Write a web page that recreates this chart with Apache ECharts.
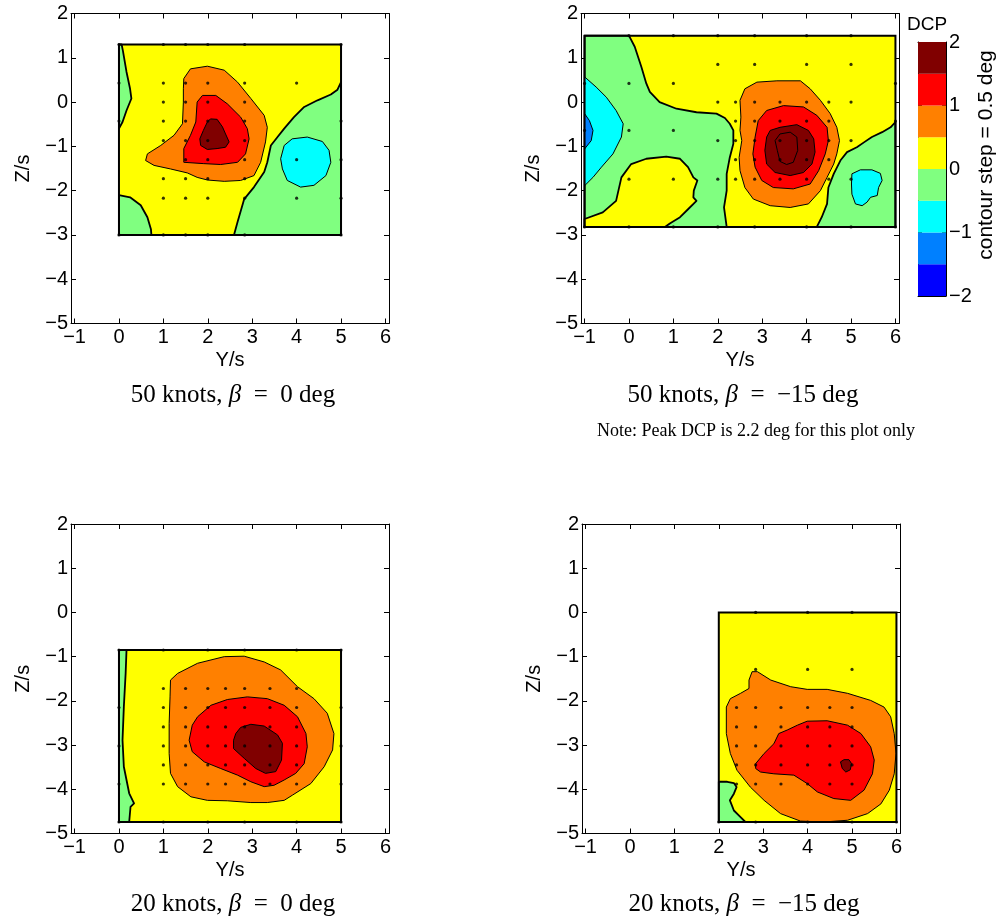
<!DOCTYPE html>
<html><head><meta charset="utf-8">
<script src="https://cdn.jsdelivr.net/npm/echarts@6/dist/echarts.min.js"></script>
<style>html,body{margin:0;padding:0;background:#fff}#c{width:1005px;height:921px}</style>
</head><body><div id="c"></div>
<script>
// ---------------- DATA ----------------
const levelEdges = [-2, -1.5, -1, -0.5, 0, 0.5, 1, 1.5, 2];
const levelColors = ['#0000ff', '#0080ff', '#00ffff', '#80ff80', '#ffff00', '#ff8000', '#ff0000', '#800000'];
const xTicks = [-1, 0, 1, 2, 3, 4, 5, 6];
const cbTicks = [-2, -1, 0, 1, 2];
const titles = ['50 knots, |β|\u2002=\u20020 deg', '50 knots, |β|\u2002=\u2002\u221215 deg', '20 knots, |β|\u2002=\u20020 deg', '20 knots, |β|\u2002=\u2002\u221215 deg'];
const noteText = 'Note: Peak DCP is 2.2 deg for this plot only';

// --- 50 knots, beta = 0 (top left) ---
const tlRegion = [[0,1.3],[5,1.3],[5,-3],[0,-3]];
const tlGreenLeft = [[0,1.3],[0.06,1.3],[0.09,1.15],[0.17,0.68],[0.25,0.3],[0.28,0.08],[0.17,-0.19],[0.08,-0.45],[0,-0.6]];
const tlGreenBottom = [[0,-2.1],[0.25,-2.15],[0.49,-2.33],[0.64,-2.6],[0.72,-2.87],[0.73,-3],[0,-3]];
const tlGreenRight = [[2.59,-3],[2.67,-2.71],[2.82,-2.19],[3.04,-1.92],[3.27,-1.58],[3.34,-1.36],[3.42,-0.98],[3.57,-0.79],[3.72,-0.6],[3.94,-0.34],[4.17,-0.11],[4.47,0.04],[4.77,0.17],[4.92,0.28],[5,0.45],[5,-3]];
const tlCyan = [[3.64,-1.28],[3.72,-0.98],[3.9,-0.83],[4.24,-0.79],[4.58,-0.89],[4.73,-1.09],[4.77,-1.36],[4.66,-1.66],[4.39,-1.88],[4.09,-1.92],[3.79,-1.77],[3.68,-1.51]];
const tlOrange = [[1.46,0.53],[1.61,0.75],[1.99,0.81],[2.37,0.72],[2.67,0.45],[2.97,0.08],[3.27,-0.3],[3.34,-0.57],[3.3,-0.9],[3.19,-1.36],[3.04,-1.66],[2.74,-1.77],[2.37,-1.79],[1.99,-1.76],[1.76,-1.7],[1.54,-1.6],[1.16,-1.51],[0.79,-1.43],[0.6,-1.32],[0.64,-1.17],[0.94,-0.98],[1.24,-0.75],[1.43,-0.49],[1.45,0],[1.45,0.3]];
const tlRed = [[1.76,0],[1.88,0.15],[2.18,0.15],[2.44,-0.04],[2.74,-0.34],[2.89,-0.6],[2.93,-0.83],[2.85,-1.17],[2.67,-1.36],[2.29,-1.41],[1.91,-1.39],[1.46,-1.36],[1.46,-1.05],[1.61,-0.75],[1.73,-0.45]];
const tlDark = [[1.99,-0.45],[2.06,-0.38],[2.21,-0.39],[2.33,-0.56],[2.4,-0.72],[2.48,-0.9],[2.4,-1.02],[2.21,-1.05],[1.99,-1.07],[1.84,-0.98],[1.82,-0.83],[1.9,-0.64]];
const tlDots = [[0,1.3],[1,1.3],[1.5,1.3],[2,1.3],[2.83,1.3],[5,1.3],
  [0,0.43],[1,0.43],[1.5,0.43],[2,0.43],[2.83,0.43],[4,0.43],
  [1,0],[1.5,0],[2,0],[2.83,0],
  [0,-0.43],[1,-0.43],[1.5,-0.43],[2,-0.43],[2.83,-0.43],[5,-0.43],
  [1,-0.87],[1.5,-0.87],[2,-0.87],[2.83,-0.87],
  [1.5,-1.3],[2,-1.3],[2.83,-1.3],[4,-1.3],[5,-1.3],
  [1,-1.73],[1.5,-1.73],[2,-1.73],[2.83,-1.73],
  [1,-2.17],[1.5,-2.17],[2,-2.17],[2.83,-2.17],[4,-2.17],[5,-2.17],
  [0,-3],[1,-3],[1.5,-3],[2,-3],[2.83,-3],[5,-3]];

// --- 50 knots, beta = -15 (top right) ---
const trRegion = [[-1,1.5],[6,1.5],[6,-2.82],[-1,-2.82]];
const trGreen = [[-1,1.5],[0,1.5],[0.13,1.25],[0.28,0.79],[0.39,0.42],[0.47,0.23],[0.69,0],[1.07,-0.15],[1.52,-0.23],[1.97,-0.26],[2.16,-0.36],[2.27,-0.49],[2.35,-0.64],[2.35,-0.94],[2.27,-1.25],[2.2,-1.62],[2.2,-2.0],[2.14,-2.38],[2.2,-2.82],[-1,-2.82]];
const trYellowBlob = [[-1,-2.64],[-0.59,-2.49],[-0.29,-2.23],[-0.17,-1.7],[0.05,-1.4],[0.39,-1.28],[0.84,-1.23],[1.15,-1.28],[1.33,-1.47],[1.45,-1.7],[1.54,-1.77],[1.46,-2.0],[1.45,-2.15],[1.52,-2.23],[1.33,-2.42],[1.15,-2.6],[0.92,-2.74],[0.81,-2.82],[-1,-2.82]];
const trGreenRight = [[4.23,-2.82],[4.34,-2.6],[4.46,-2.3],[4.49,-1.93],[4.61,-1.62],[4.76,-1.32],[4.91,-1.13],[5.13,-1.02],[5.29,-0.91],[5.47,-0.79],[5.7,-0.68],[5.89,-0.57],[6,-0.45],[6,-2.82]];
const trCyanLeft = [[-1,0.57],[-0.74,0.34],[-0.51,0.11],[-0.29,-0.19],[-0.13,-0.49],[-0.17,-0.79],[-0.36,-1.17],[-0.62,-1.47],[-0.81,-1.7],[-1,-1.89]];
const trBlueLeft = [[-1,-0.26],[-0.89,-0.42],[-0.81,-0.64],[-0.85,-0.87],[-1,-1.06]];
const trCyanRight = [[5.02,-1.62],[5.21,-1.53],[5.47,-1.53],[5.66,-1.61],[5.7,-1.77],[5.62,-1.93],[5.59,-2.11],[5.44,-2.15],[5.36,-2.26],[5.25,-2.34],[5.1,-2.3],[5.02,-2.08],[5.01,-1.85]];
const trOrange = [[2.5,0.04],[2.61,0.3],[2.88,0.45],[3.33,0.48],[3.86,0.48],[4.08,0.3],[4.31,0.04],[4.53,-0.26],[4.68,-0.57],[4.74,-0.87],[4.68,-1.17],[4.61,-1.4],[4.46,-1.7],[4.31,-2.0],[4.04,-2.3],[3.63,-2.38],[3.18,-2.34],[2.8,-2.19],[2.61,-1.93],[2.5,-1.55],[2.48,-1.25],[2.54,-0.87],[2.5,-0.64],[2.52,-0.34]];
const trRed = [[2.91,-0.42],[3.1,-0.19],[3.48,-0.08],[3.93,-0.11],[4.23,-0.3],[4.46,-0.57],[4.49,-0.87],[4.42,-1.17],[4.27,-1.55],[4.08,-1.85],[3.7,-1.96],[3.25,-1.93],[2.99,-1.77],[2.84,-1.47],[2.79,-1.17],[2.84,-0.79]];
const trDark = [[3.1,-0.79],[3.18,-0.64],[3.4,-0.57],[3.78,-0.51],[4.04,-0.64],[4.16,-0.83],[4.19,-1.13],[4.12,-1.4],[3.93,-1.59],[3.63,-1.66],[3.29,-1.59],[3.1,-1.4],[3.06,-1.09]];
const trPeak = [[3.29,-0.87],[3.4,-0.72],[3.63,-0.68],[3.78,-0.79],[3.8,-1.09],[3.7,-1.36],[3.55,-1.41],[3.4,-1.34],[3.34,-1.09]];
const trDots = [[0,1.5],[1,1.5],[2,1.5],[2.83,1.5],[4,1.5],[5,1.5],
  [2,0.85],[2.83,0.85],[4,0.85],[5,0.85],
  [-1,0.42],[0,0.42],[1,0.42],[6,0.42],
  [2,0],[2.4,0],[2.83,0],[3.4,0],[4,0],[4.5,0],[5,0],
  [2.4,-0.43],[2.83,-0.43],[3.4,-0.43],[4,-0.43],[4.5,-0.43],[6,-0.43],
  [-1,-0.64],[0,-0.64],[1,-0.64],
  [2,-0.87],[2.4,-0.87],[2.83,-0.87],[3.4,-0.87],[4,-0.87],[4.5,-0.87],[5,-0.87],
  [2.4,-1.3],[2.83,-1.3],[3.4,-1.3],[4,-1.3],[4.5,-1.3],
  [0,-1.74],[1,-1.74],[2,-1.74],[2.4,-1.74],[2.83,-1.74],[3.4,-1.74],[4,-1.74],[4.5,-1.74],[5,-1.74],
  [-1,-2.82],[0,-2.82],[1,-2.82],[2,-2.82],[2.83,-2.82],[4,-2.82],[5,-2.82],[6,-2.82]];

// --- 20 knots, beta = 0 (bottom left) ---
const blRegion = [[0,-0.85],[5,-0.85],[5,-4.74],[0,-4.74]];
const blGreen = [[0,-0.85],[0.17,-0.85],[0.15,-1.38],[0.11,-2.13],[0.08,-2.89],[0.11,-3.49],[0.23,-4.09],[0.34,-4.32],[0.26,-4.4],[0.23,-4.74],[0,-4.74]];
const blOrange = [[1.16,-1.53],[1.32,-1.38],[1.77,-1.15],[2.37,-1.0],[2.82,-0.99],[3.27,-1.12],[3.64,-1.3],[4.02,-1.68],[4.39,-1.95],[4.69,-2.28],[4.84,-2.74],[4.81,-3.11],[4.62,-3.49],[4.32,-3.87],[3.91,-4.13],[3.72,-4.25],[3.34,-4.3],[2.97,-4.3],[2.44,-4.26],[1.99,-4.25],[1.62,-4.17],[1.32,-3.94],[1.16,-3.64],[1.13,-3.19],[1.13,-2.51],[1.15,-1.91]];
const blRed = [[1.77,-2.36],[2.07,-2.1],[2.44,-1.97],[2.89,-1.91],[3.34,-1.95],[3.72,-2.1],[4.02,-2.36],[4.21,-2.74],[4.24,-3.04],[4.17,-3.42],[3.98,-3.64],[3.72,-3.79],[3.49,-3.91],[3.27,-3.94],[2.97,-3.83],[2.67,-3.68],[2.29,-3.53],[1.92,-3.38],[1.65,-3.15],[1.58,-2.89],[1.65,-2.55]];
const blDark = [[2.63,-2.74],[2.74,-2.6],[2.97,-2.53],[3.27,-2.57],[3.57,-2.77],[3.68,-2.96],[3.66,-3.34],[3.53,-3.6],[3.3,-3.64],[3.08,-3.53],[2.82,-3.3],[2.58,-3.08],[2.58,-2.89]];
const blCols = [1, 1.5, 2, 2.4, 2.83, 3.4, 4];
const blRows = [-1.72, -2.15, -2.59, -3.02, -3.45, -3.88];
const blEdgeDots = [[0,-0.85],[1,-0.85],[2,-0.85],[2.83,-0.85],[4,-0.85],[5,-0.85],
  [0,-2.15],[0,-3.02],[0,-3.88],[5,-2.15],[5,-3.02],[5,-3.88],
  [0,-4.74],[1,-4.74],[2,-4.74],[2.83,-4.74],[4,-4.74],[5,-4.74]];

// --- 20 knots, beta = -15 (bottom right) ---
const brRegion = [[2,0],[6,0],[6,-4.74],[2,-4.74]];
const brGreen = [[2,-3.83],[2.19,-3.83],[2.34,-3.86],[2.4,-3.95],[2.34,-4.1],[2.25,-4.25],[2.34,-4.48],[2.49,-4.63],[2.6,-4.74],[2,-4.74]];
const brOrange = [[2.68,-1.53],[2.75,-1.34],[2.87,-1.34],[3.17,-1.53],[3.62,-1.68],[3.99,-1.74],[4.44,-1.74],[4.9,-1.83],[5.42,-1.99],[5.72,-2.14],[5.87,-2.36],[5.95,-2.74],[5.99,-3.19],[5.95,-3.65],[5.84,-4.02],[5.65,-4.33],[5.35,-4.55],[4.9,-4.7],[4.37,-4.74],[3.84,-4.72],[3.39,-4.55],[3.02,-4.25],[2.71,-3.95],[2.41,-3.57],[2.26,-3.19],[2.17,-2.74],[2.17,-2.14],[2.26,-1.95],[2.49,-1.83],[2.68,-1.72]];
const brRed = [[2.83,-3.42],[3.02,-3.19],[3.24,-2.97],[3.35,-2.74],[3.54,-2.66],[3.77,-2.55],[3.99,-2.46],[4.44,-2.45],[4.9,-2.55],[5.2,-2.74],[5.42,-3.04],[5.5,-3.34],[5.46,-3.65],[5.27,-4.02],[4.97,-4.25],[4.59,-4.21],[4.22,-4.06],[3.99,-3.87],[3.69,-3.68],[3.24,-3.65],[2.94,-3.61],[2.83,-3.53]];
const brDark = [[4.74,-3.38],[4.82,-3.33],[4.93,-3.33],[4.99,-3.42],[4.96,-3.56],[4.86,-3.61],[4.78,-3.53]];
const brCols = [2.4, 2.83, 3.4, 4, 4.5, 5];
const brRows = [-2.15, -2.59, -3.02, -3.45, -3.88];
const brEdgeDots = [[2.83,0],[4,0],[5,0],[2.83,-1.29],[4,-1.29],[5,-1.29],
  [2,-4.74],[2.83,-4.74],[4,-4.74],[5,-4.74],[6,-4.74]];

// contour patches: [polygon, DCP level inside]
const tlPatches = [[tlRegion,0.25],[tlGreenLeft,-0.25],[tlGreenBottom,-0.25],[tlGreenRight,-0.25],[tlCyan,-0.75],[tlOrange,0.75],[tlRed,1.25],[tlDark,1.75]];
const trPatches = [[trRegion,0.25],[trGreen,-0.25],[trYellowBlob,0.25],[trGreenRight,-0.25],[trCyanLeft,-0.75],[trBlueLeft,-1.25],[trCyanRight,-0.75],[trOrange,0.75],[trRed,1.25],[trDark,1.75],[trPeak,2.25]];
const blPatches = [[blRegion,0.25],[blGreen,-0.25],[blOrange,0.75],[blRed,1.25],[blDark,1.75]];
const brPatches = [[brRegion,0.25],[brGreen,-0.25],[brOrange,0.75],[brRed,1.25],[brDark,1.75]];

// ---------------- LAYOUT / STYLE ----------------
const SANS = 'Liberation Sans, Arial, Helvetica, sans-serif';
const SERIF = 'Liberation Serif, Times New Roman, serif';
const grids = [
  {left: 71, top: 13.5, width: 318, height: 310},
  {left: 581, top: 13.5, width: 318, height: 310},
  {left: 71, top: 524, width: 318, height: 309.5},
  {left: 582, top: 524, width: 318, height: 309.5}
];
const cbGrid = {left: 918, top: 42, width: 28, height: 254};

const fmt = v => (v < 0 ? '\u2212' + Math.abs(v) : String(v));
function colorFor(level) {
  let i = 0;
  while (i < levelColors.length - 1 && level > levelEdges[i + 1]) i++;
  return levelColors[i];
}
function cross(cols, rows) {
  const out = [];
  rows.forEach(r => cols.forEach(c => out.push([c, r])));
  return out;
}

const xAxes = [], yAxes = [], series = [];
grids.forEach((g, gi) => {
  const tick = {show: true, inside: true, length: 5, lineStyle: {color: '#000', width: 1}};
  const line = {show: true, onZero: false, lineStyle: {color: '#000', width: 1}};
  xAxes.push({gridIndex: gi, type: 'value', min: -1.08, max: 6.08, position: 'bottom',
    name: 'Y/s', nameLocation: 'middle', nameGap: 27,
    nameTextStyle: {fontFamily: SANS, fontSize: 20, color: '#000'},
    axisLine: line, axisTick: Object.assign({customValues: xTicks}, tick),
    axisLabel: {customValues: xTicks, formatter: fmt, fontFamily: SANS, fontSize: 20, color: '#000', margin: 4},
    splitLine: {show: false}});
  xAxes.push({gridIndex: gi, type: 'value', min: -1.08, max: 6.08, position: 'top',
    axisLine: line, axisTick: Object.assign({customValues: xTicks}, tick),
    axisLabel: {show: false}, splitLine: {show: false}});
  yAxes.push({gridIndex: gi, type: 'value', min: -5, max: 2, interval: 1, position: 'left',
    name: 'Z/s', nameLocation: 'middle', nameGap: 38,
    nameTextStyle: {fontFamily: SANS, fontSize: 20, color: '#000'},
    axisLine: line, axisTick: tick,
    axisLabel: {formatter: fmt, fontFamily: SANS, fontSize: 20, color: '#000', margin: 3},
    splitLine: {show: false}});
  yAxes.push({gridIndex: gi, type: 'value', min: -5, max: 2, interval: 1, position: 'right',
    axisLine: line, axisTick: tick, axisLabel: {show: false}, splitLine: {show: false}});
});
// colour bar axes (grid 4)
xAxes.push({gridIndex: 4, type: 'value', min: 0, max: 1, position: 'bottom',
  axisLine: {show: true, onZero: false, lineStyle: {color: '#000'}}, axisTick: {show: false}, axisLabel: {show: false}, splitLine: {show: false}});
xAxes.push({gridIndex: 4, type: 'value', min: 0, max: 1, position: 'top',
  axisLine: {show: true, onZero: false, lineStyle: {color: '#000'}}, axisTick: {show: false}, axisLabel: {show: false}, splitLine: {show: false}});
yAxes.push({gridIndex: 4, type: 'value', min: -2, max: 2, interval: 1, position: 'left',
  axisLine: {show: true, onZero: false, lineStyle: {color: '#000'}}, axisTick: {show: true, inside: true, length: 4, lineStyle: {color: '#000'}},
  axisLabel: {show: false}, splitLine: {show: false}});
yAxes.push({gridIndex: 4, type: 'value', min: -2, max: 2, interval: 1, position: 'right',
  axisLine: {show: true, onZero: false, lineStyle: {color: '#000'}}, axisTick: {show: true, inside: true, length: 4, lineStyle: {color: '#000'}},
  axisLabel: {formatter: fmt, fontFamily: SANS, fontSize: 20, color: '#000', margin: 3}, splitLine: {show: false}});

const allPatches = [tlPatches, trPatches, blPatches, brPatches];
const allRegions = [tlRegion, trRegion, blRegion, brRegion];
const allDots = [tlDots, trDots, cross(blCols, blRows).concat(blEdgeDots), cross(brCols, brRows).concat(brEdgeDots)];

allPatches.forEach((patches, gi) => {
  series.push({
    type: 'custom', xAxisIndex: 2 * gi, yAxisIndex: 2 * gi, silent: true, animation: false,
    data: patches.map(p => p[0][0]),
    renderItem: (params, api) => {
      const p = patches[params.dataIndex];
      const pts = p[0].map(q => api.coord(q));
      const first = params.dataIndex === 0;
      return {type: 'polygon', shape: {points: pts},
        style: {fill: colorFor(p[1]), stroke: first ? 'none' : '#000',
          lineWidth: Math.abs(p[1]) === 0.25 ? 1.8 : 1, lineJoin: 'round'}};
    }
  });
  series.push({
    type: 'custom', xAxisIndex: 2 * gi, yAxisIndex: 2 * gi, silent: true, animation: false,
    data: [allRegions[gi][0]],
    renderItem: (params, api) => ({type: 'polygon', shape: {points: allRegions[gi].map(q => api.coord(q))},
      style: {fill: 'none', stroke: '#000', lineWidth: 2}})
  });
  series.push({
    type: 'scatter', xAxisIndex: 2 * gi, yAxisIndex: 2 * gi, silent: true, animation: false,
    symbol: 'circle', symbolSize: 3.2, itemStyle: {color: '#000'},
    data: allDots[gi]
  });
});
// colour bar bands
series.push({
  type: 'custom', xAxisIndex: 8, yAxisIndex: 8, silent: true, animation: false,
  data: levelColors.map((c, i) => [0, levelEdges[i], levelEdges[i + 1]]),
  encode: {x: 0, y: [1, 2]},
  renderItem: (params, api) => {
    const a = api.coord([0, api.value(2)]);
    const b = api.coord([1, api.value(1)]);
    return {type: 'rect', shape: {x: a[0], y: a[1], width: b[0] - a[0], height: b[1] - a[1]},
      style: {fill: levelColors[params.dataIndex], stroke: 'none'}};
  }
});

function titleText(str, x, y) {
  const parts = str.split('|');
  return {type: 'text', x: x, y: y, silent: true,
    style: {text: '{a|' + parts[0] + '}{b|' + parts[1] + '}{a|' + parts[2] + '}',
      rich: {a: {fontFamily: SERIF, fontSize: 25, fill: '#000', color: '#000'},
             b: {fontFamily: SERIF, fontSize: 25, fontStyle: 'italic', fill: '#000', color: '#000'}},
      align: 'center', verticalAlign: 'middle', textAlign: 'center', textVerticalAlign: 'middle'}};
}
const gcx = g => g.left + g.width / 2 + 3;
const graphic = [
  titleText(titles[0], gcx(grids[0]), 395),
  titleText(titles[1], gcx(grids[1]), 395),
  titleText(titles[2], gcx(grids[2]), 904),
  titleText(titles[3], gcx(grids[3]), 904),
  {type: 'text', x: 756, y: 431, silent: true,
    style: {text: noteText, font: '18px ' + SERIF, fill: '#000', align: 'center', verticalAlign: 'middle'}},
  {type: 'text', x: 927, y: 25, silent: true,
    style: {text: 'DCP', font: '19px ' + SANS, fill: '#000', align: 'center', verticalAlign: 'middle'}},
  {type: 'text', x: 986, y: 155, rotation: Math.PI / 2, silent: true,
    style: {text: 'contour step = 0.5 deg', font: '21px ' + SANS, fill: '#000', align: 'center', verticalAlign: 'middle'}}
];

const chart = echarts.init(document.getElementById('c'), null, {renderer: 'canvas'});
chart.setOption({
  animation: false,
  backgroundColor: '#fff',
  grid: grids.concat([cbGrid]).map(g => Object.assign({containLabel: false, outerBoundsMode: 'none'}, g)),
  xAxis: xAxes,
  yAxis: yAxes,
  series: series,
  graphic: graphic
});
</script>
</body></html>
